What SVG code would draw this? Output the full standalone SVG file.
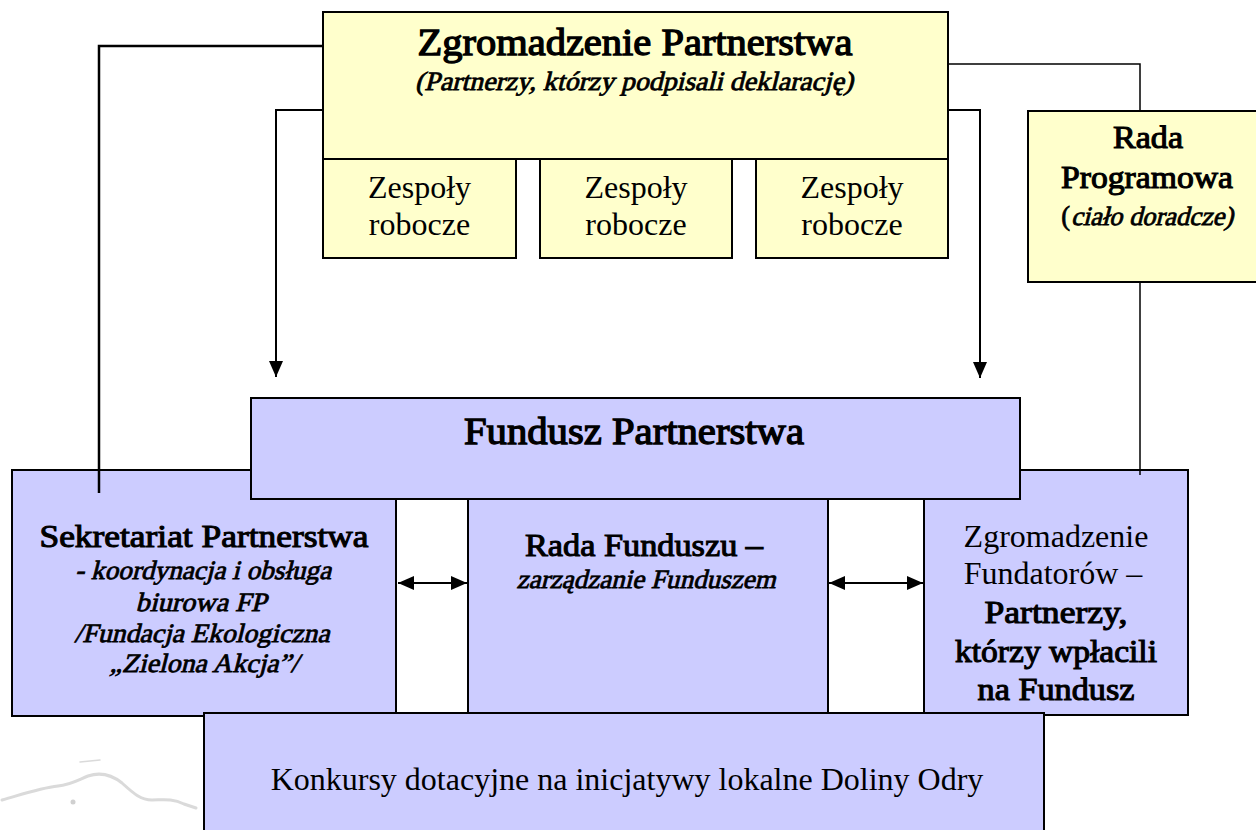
<svg xmlns="http://www.w3.org/2000/svg" width="1256" height="830" viewBox="0 0 1256 830">
  <style>
    .y { fill: #FFFFCC; stroke: #000; stroke-width: 2; }
    .b { fill: #CCCCFF; stroke: #000; stroke-width: 2; }
    text { font-family: "Liberation Serif", "Times New Roman", serif; fill: #000; text-anchor: middle; font-weight: normal; font-style: normal; }
    .t37 { font-size: 37px; stroke: #000; stroke-width: 1.3; }
    .b32 { font-size: 32px; stroke: #000; stroke-width: 1.1; }
    .bi { font-size: 26.5px; stroke: #000; stroke-width: 0.8; }
    .r32 { font-size: 32px; }
    .ln { fill: none; stroke: #000; }
  </style>
  <defs>
    <marker id="ah" viewBox="0 0 16 14" refX="16" refY="7" markerWidth="16" markerHeight="14" markerUnits="userSpaceOnUse" orient="auto-start-reverse">
      <path d="M0,0 L16,7 L0,14 Z" fill="#000"/>
    </marker>
  </defs>
  <rect width="1256" height="830" fill="#fff"/>

  <g id="watermark" fill="none" stroke="#d4d4d4" stroke-width="3" stroke-linecap="round" opacity="0.85">
    <path d="M2,800 C20,795 40,788 58,786 C70,785 78,780 88,776 C100,772 112,775 122,783 C132,792 140,800 152,800 C162,800 172,798 184,804 L196,808"/>
    <path d="M80,762 L100,760" stroke-width="1.5"/>
    <circle cx="73" cy="802" r="2.5" fill="#c8c8c8" stroke="none"/>
  </g>

  <g id="zgromadzenie-partnerstwa">
    <rect class="y" x="323" y="12" width="625" height="147"/>
    <text class="t37" x="635" y="55" textLength="435" lengthAdjust="spacingAndGlyphs">Zgromadzenie Partnerstwa</text>
    <text class="bi" transform="translate(634,90) skewX(-14)" textLength="438" lengthAdjust="spacingAndGlyphs">(Partnerzy, którzy podpisali deklarację)</text>
  </g>
  <g id="zespoly-1">
    <rect class="y" x="323" y="159" width="193" height="99"/>
    <text class="r32" x="419.5" y="198">Zespoły</text>
    <text class="r32" x="419.5" y="235">robocze</text>
  </g>
  <g id="zespoly-2">
    <rect class="y" x="540" y="159" width="192" height="99"/>
    <text class="r32" x="636" y="198">Zespoły</text>
    <text class="r32" x="636" y="235">robocze</text>
  </g>
  <g id="zespoly-3">
    <rect class="y" x="756" y="159" width="192" height="99"/>
    <text class="r32" x="852" y="198">Zespoły</text>
    <text class="r32" x="852" y="235">robocze</text>
  </g>
  <g id="rada-programowa">
    <rect class="y" x="1028" y="111" width="240" height="171"/>
    <text class="b32" x="1148" y="148" textLength="70" lengthAdjust="spacingAndGlyphs">Rada</text>
    <text class="b32" x="1147" y="188" textLength="172" lengthAdjust="spacingAndGlyphs">Programowa</text>
    <text class="bi" x="1070" y="225" style="text-anchor:end">(</text>
    <text class="bi" transform="translate(1071,225) skewX(-14)" style="text-anchor:start" textLength="162" lengthAdjust="spacingAndGlyphs">ciało doradcze)</text>
  </g>

  <g id="sekretariat">
    <rect class="b" x="12" y="470" width="384" height="246"/>
    <text class="b32" x="204" y="547" textLength="329" lengthAdjust="spacingAndGlyphs">Sekretariat Partnerstwa</text>
    <text class="bi" transform="translate(203,579) skewX(-14)" textLength="256" lengthAdjust="spacingAndGlyphs">- koordynacja i obsługa</text>
    <text class="bi" transform="translate(201,611) skewX(-14)" textLength="131" lengthAdjust="spacingAndGlyphs">biurowa FP</text>
    <text class="bi" transform="translate(202,642) skewX(-14)" textLength="255" lengthAdjust="spacingAndGlyphs">/Fundacja Ekologiczna</text>
    <text class="bi" transform="translate(204,672) skewX(-14)" textLength="189" lengthAdjust="spacingAndGlyphs">„Zielona Akcja”/</text>
  </g>
  <g id="rada-funduszu">
    <rect class="b" x="468" y="470" width="360" height="245"/>
    <text class="b32" x="644" y="556" textLength="238" lengthAdjust="spacingAndGlyphs">Rada Funduszu –</text>
    <text class="bi" transform="translate(646,588) skewX(-14)" textLength="259" lengthAdjust="spacingAndGlyphs">zarządzanie Funduszem</text>
  </g>
  <g id="zgromadzenie-fundatorow">
    <rect class="b" x="924" y="470" width="264" height="245"/>
    <text class="r32" x="1056" y="547">Zgromadzenie</text>
    <text class="r32" x="1053" y="584">Fundatorów –</text>
    <text class="b32" x="1056" y="623" textLength="143" lengthAdjust="spacingAndGlyphs">Partnerzy,</text>
    <text class="b32" x="1056" y="662" textLength="202" lengthAdjust="spacingAndGlyphs">którzy wpłacili</text>
    <text class="b32" x="1056" y="700" textLength="157" lengthAdjust="spacingAndGlyphs">na Fundusz</text>
  </g>
  <g id="fundusz-partnerstwa">
    <rect class="b" x="251" y="398" width="769" height="101"/>
    <text class="t37" x="634" y="444" textLength="340" lengthAdjust="spacingAndGlyphs">Fundusz Partnerstwa</text>
  </g>
  <g id="konkursy">
    <rect class="b" x="204" y="713" width="840" height="130"/>
    <text class="r32" x="627" y="790">Konkursy dotacyjne na inicjatywy lokalne Doliny Odry</text>
  </g>

  <g id="connectors">
    <polyline class="ln" stroke-width="2.5" points="323,46 99,46 99,493"/>
    <polyline class="ln" stroke-width="2" points="323,110 276,110 276,377" marker-end="url(#ah)"/>
    <polyline class="ln" stroke-width="2" points="948,110 980,110 980,378" marker-end="url(#ah)"/>
    <polyline class="ln" stroke-width="1.5" points="948,64 1140,64 1140,111"/>
    <line class="ln" stroke-width="1.5" x1="1140" y1="282" x2="1140" y2="475"/>
    <line class="ln" stroke-width="2" x1="398" y1="583" x2="467" y2="583" marker-start="url(#ah)" marker-end="url(#ah)"/>
    <line class="ln" stroke-width="2" x1="829" y1="583" x2="923" y2="583" marker-start="url(#ah)" marker-end="url(#ah)"/>
  </g>
</svg>
